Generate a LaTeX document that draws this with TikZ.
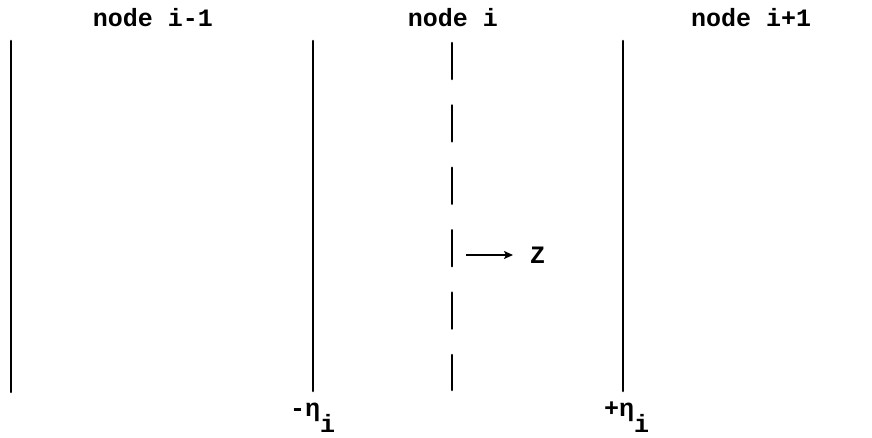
\documentclass[tikz,border=0pt]{standalone}
\usepackage{fontspec}
\setmonofont{Liberation Mono}
\usetikzlibrary{arrows.meta}
\tikzset{
  label text/.style={inner sep=0pt, font=\fontsize{25}{30}\selectfont\ttfamily\bfseries},
  plane/.style={line width=2.6pt, line cap=round},
  midplane/.style={plane, dash pattern=on 36pt off 26.4pt},
  axis arrow/.style={line width=2pt, -{Stealth[length=9pt,width=8pt,inset=2pt]}}
}
\begin{document}
\begin{tikzpicture}[x=1pt,y=-1pt]
  \useasboundingbox (0,0) rectangle (872,438);
  % node headings
  \node[label text, anchor=base] (hprev) at (153,27) {node i-1};
  \node[label text, anchor=base] (hcur)  at (453,27) {node i};
  \node[label text, anchor=base] (hnext) at (751,27) {node i+1};
  % cell boundaries and the node plane
  \draw[plane] (11,41) -- (11,392);
  \draw[plane] (313,41) -- (313,391);
  \draw[plane] (623,41) -- (623,391);
  \draw[midplane] (452,43) -- (452,390);
  % local coordinate direction
  \coordinate (zfrom) at (466,255);
  \node[label text, anchor=base west] (z) at (530,264) {Z};
  \draw[axis arrow] (zfrom) -- ([xshift=-17pt]z.west |- zfrom);
  % half-width marks
  \node[label text, anchor=base west] (minus) at (290,416) {-η\raisebox{-16pt}{i}};
  \node[label text, anchor=base west] (plus)  at (604,416) {+η\raisebox{-16pt}{i}};
\end{tikzpicture}
\end{document}
